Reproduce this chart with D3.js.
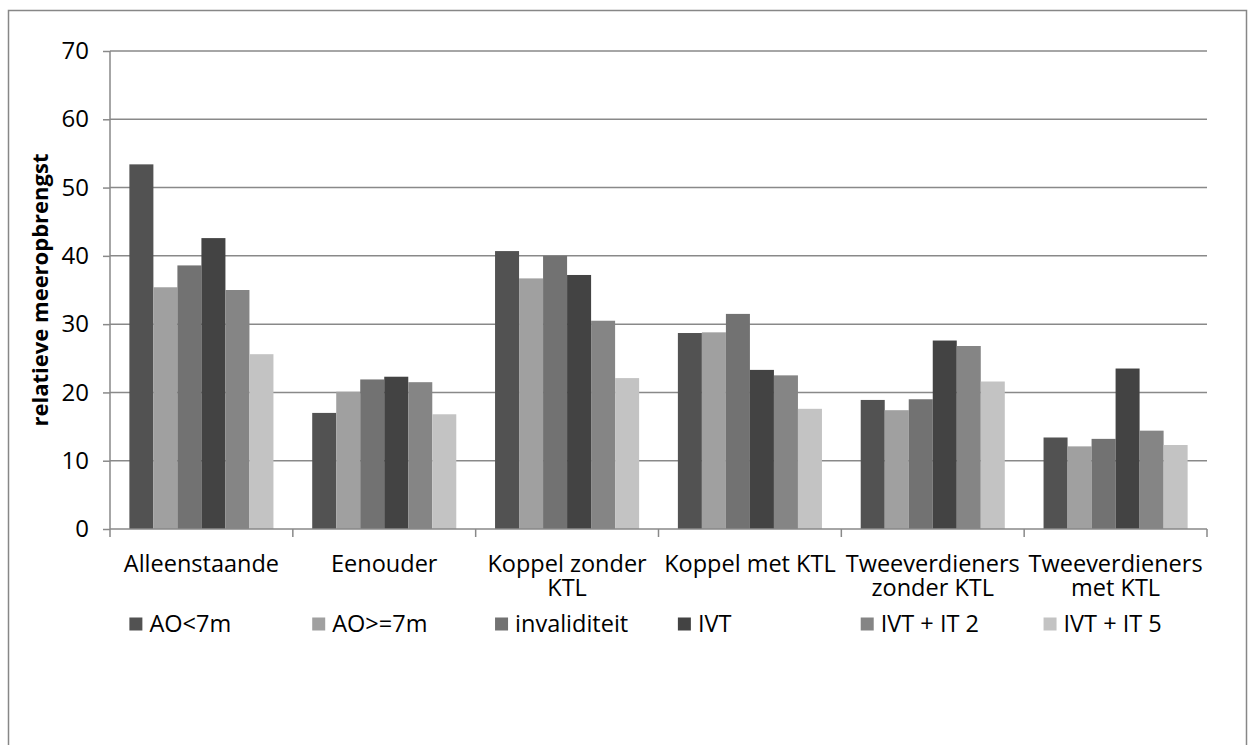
<!DOCTYPE html>
<html>
<head>
<meta charset="utf-8">
<script src="https://cdn.jsdelivr.net/npm/d3@7"></script>
<style>
  body { margin: 0; background: #fff; }
  text { font-family: "Open Sans", "Noto Sans", sans-serif; fill: #000; }
</style>
</head>
<body>
<svg id="chart" width="1255" height="745"></svg>
<script>
// household types (x axis), with the way Excel wrapped them
var categories = ["Alleenstaande", "Eenouder", "Koppel zonder KTL", "Koppel met KTL",
  "Tweeverdieners zonder KTL", "Tweeverdieners met KTL"];
var categoryLines = [["Alleenstaande"], ["Eenouder"], ["Koppel zonder", "KTL"], ["Koppel met KTL"],
  ["Tweeverdieners", "zonder KTL"], ["Tweeverdieners", "met KTL"]];

// series
var seriesNames = ["AO<7m", "AO>=7m", "invaliditeit", "IVT", "IVT + IT 2", "IVT + IT 5"];
var seriesColors = ["#525252", "#a0a0a0", "#727272", "#434343", "#858585", "#c3c3c3"];

// values per series, one per household type
var aoKort     = [53.4, 17.0, 40.7, 28.7, 18.9, 13.4];
var aoLang     = [35.4, 20.1, 36.7, 28.8, 17.4, 12.1];
var invalid    = [38.6, 21.9, 40.0, 31.5, 19.0, 13.2];
var ivt        = [42.6, 22.3, 37.2, 23.3, 27.6, 23.5];
var ivtIt2     = [35.0, 21.5, 30.5, 22.5, 26.8, 14.4];
var ivtIt5     = [25.6, 16.8, 22.1, 17.6, 21.6, 12.3];
var seriesValues = [aoKort, aoLang, invalid, ivt, ivtIt2, ivtIt5];

var yTicks = [0, 10, 20, 30, 40, 50, 60, 70];
var yTitle = "relatieve meeropbrengst";

var svg = d3.select("#chart");
var grid = "#898989";
var margin = {top: 51, right: 48, bottom: 216, left: 110};
var width = 1255, height = 745;

// outer chart frame
svg.append("rect")
  .attr("x", 8.5).attr("y", 10.5)
  .attr("width", 1238).attr("height", 800)
  .attr("fill", "none").attr("stroke", "#878787").attr("stroke-width", 1.5);

var x0 = d3.scaleBand()
  .domain(categories)
  .range([margin.left, width - margin.right]);

var pad = x0.bandwidth() * 0.106;
var x1 = d3.scaleBand()
  .domain(seriesNames)
  .range([pad, x0.bandwidth() - pad]);

var y = d3.scaleLinear()
  .domain([0, 70])
  .range([height - margin.bottom, margin.top]);

// gridlines
svg.append("g")
  .selectAll("line")
  .data(yTicks.slice(1))
  .enter().append("line")
    .attr("x1", margin.left).attr("x2", width - margin.right)
    .attr("y1", d => y(d)).attr("y2", d => y(d))
    .attr("stroke", grid).attr("stroke-width", 1.5);

// bars
var rows = [];
seriesNames.forEach(function(s, i) {
  categories.forEach(function(c, j) {
    rows.push({series: s, cat: c, value: seriesValues[i][j], color: seriesColors[i]});
  });
});

svg.append("g")
  .selectAll("rect")
  .data(rows)
  .enter().append("rect")
    .attr("x", d => x0(d.cat) + x1(d.series))
    .attr("y", d => y(d.value))
    .attr("width", x1.bandwidth())
    .attr("height", d => y(0) - y(d.value))
    .attr("fill", d => d.color);

// y axis
var yAxis = svg.append("g")
  .attr("transform", `translate(${margin.left},0)`)
  .call(d3.axisLeft(y).tickValues(yTicks).tickSize(7).tickPadding(14));
yAxis.selectAll("line, path").attr("stroke", grid).attr("stroke-width", 1.5);
yAxis.select(".domain").attr("d", `M0,${y(0)}V${y(70)}`);
yAxis.selectAll("text").attr("font-size", 24).attr("font-family", null);

// x axis
var xAxis = svg.append("g")
  .attr("transform", `translate(0,${y(0)})`);
xAxis.append("line")
  .attr("x1", margin.left).attr("x2", width - margin.right)
  .attr("stroke", grid).attr("stroke-width", 1.5);
var bounds = categories.map(c => x0(c)).concat([width - margin.right]);
xAxis.selectAll(".tk")
  .data(bounds)
  .enter().append("line")
    .attr("class", "tk")
    .attr("x1", d => d).attr("x2", d => d)
    .attr("y1", 0).attr("y2", 8)
    .attr("stroke", grid).attr("stroke-width", 1.5);

var labels = xAxis.selectAll(".lbl")
  .data(categories)
  .enter().append("text")
    .attr("class", "lbl")
    .attr("text-anchor", "middle")
    .attr("font-size", 23.5)
    .attr("transform", d => `translate(${x0(d) + x0.bandwidth() / 2},0)`);
labels.selectAll("tspan")
  .data((d, i) => categoryLines[i])
  .enter().append("tspan")
    .attr("x", 0)
    .attr("y", (d, i) => 43 + i * 24)
    .text(d => d);

// y title
svg.append("text")
  .attr("transform", `translate(40,${(y(0) + y(70)) / 2}) rotate(-90)`)
  .attr("text-anchor", "middle")
  .attr("dy", "0.35em")
  .attr("font-size", 22)
  .attr("font-weight", "bold")
  .text(yTitle);

// legend
var legend = svg.append("g")
  .attr("transform", `translate(0,624)`);
var item = legend.selectAll("g")
  .data(seriesNames)
  .enter().append("g")
    .attr("transform", d => `translate(${x0(categories[seriesNames.indexOf(d)]) + pad},0)`);
item.append("rect")
  .attr("x", 0).attr("y", -6.5)
  .attr("width", 13).attr("height", 13)
  .attr("fill", (d, i) => seriesColors[i]);
item.append("text")
  .attr("x", 20)
  .attr("dy", "0.35em")
  .attr("font-size", 23.5)
  .text(d => d);
</script>
</body>
</html>
